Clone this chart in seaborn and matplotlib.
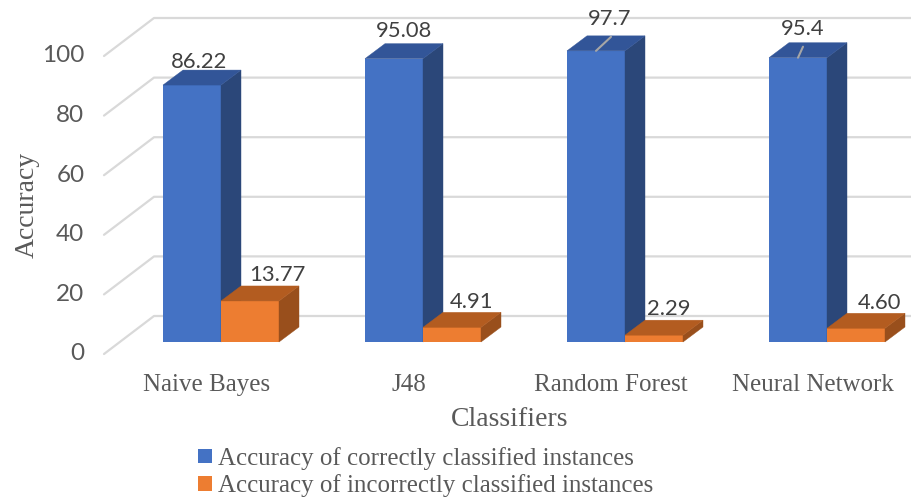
import matplotlib
matplotlib.use("Agg")
import matplotlib.pyplot as plt
import pandas as pd
import seaborn as sns
from matplotlib.patches import Polygon

classifiers = ["Naive Bayes", "J48", "Random Forest", "Neural Network"]
correct = [86.22, 95.08, 97.7, 95.4]
incorrect = [13.77, 4.91, 2.29, 4.60]
correct_labels = ["86.22", "95.08", "97.7", "95.4"]
incorrect_labels = ["13.77", "4.91", "2.29", "4.60"]
name_correct = "Accuracy of correctly classified instances"
name_incorrect = "Accuracy of incorrectly classified instances"
y_ticks = [0, 20, 40, 60, 80, 100]

W, H = 911, 499
px_x = 202.0   # pixels per category
px_y = 2.98    # pixels per accuracy point
GREY = "#595959"
SERIF = "Liberation Serif"
SANS = "Lato"

sns.set_theme(style="white")
fig = plt.figure(figsize=(W / 100, H / 100), dpi=100)
# axes in pixels: left 90, right 911, top 0, bottom 366
ax = fig.add_axes([90 / W, (H - 366) / H, (W - 90) / W, 366 / H])

df = pd.DataFrame({
    "Classifiers": classifiers * 2,
    "Accuracy": correct + incorrect,
    "series": [name_correct] * 4 + [name_incorrect] * 4,
})
sns.barplot(data=df, x="Classifiers", y="Accuracy", hue="series",
            palette=["#4472C4", "#ED7D31"], width=116 / px_x, saturation=1,
            edgecolor="none", linewidth=0, ax=ax, legend=True)

ax.set_xlim((90 - 221) / px_x, (911 - 221) / px_x)
ax.set_ylim((342 - 366) / px_y, 342 / px_y)
for s in ax.spines.values():
    s.set_visible(False)

dx = lambda p: p / px_x
dy = lambda p: p / px_y

# side walls: gridlines run from the front corner back, then along the back wall
for t in y_ticks:
    ax.plot([dx(104 - 221), dx(154 - 221), ax.get_xlim()[1]],
            [t - dy(12), t + dy(26), t + dy(26)],
            color="#D9D9D9", lw=1.6, zorder=0.5, clip_on=False)

depth_x, depth_y = dx(20), dy(15)


def add_box(rect, side, top, z):
    x0, x1 = rect.get_x(), rect.get_x() + rect.get_width()
    y1 = rect.get_height()
    rect.set_zorder(z)
    ax.add_patch(Polygon([(x1, 0), (x1 + depth_x, depth_y), (x1 + depth_x, y1 + depth_y), (x1, y1)],
                         facecolor=side, edgecolor=side, lw=0.3, zorder=z))
    ax.add_patch(Polygon([(x0, y1), (x0 + depth_x, y1 + depth_y), (x1 + depth_x, y1 + depth_y), (x1, y1)],
                         facecolor=top, edgecolor=top, lw=0.3, zorder=z))


for r in ax.containers[0]:
    add_box(r, "#2B4779", "#325598", 2)
for r in ax.containers[1]:
    add_box(r, "#994F1C", "#B35C20", 3)

# leader lines on the two tall bars
leaders = {2: (15, 14), 3: (5, 11)}
for i, (lx, ly) in leaders.items():
    r = ax.containers[0][i]
    cx = r.get_x() + r.get_width() / 2
    ax.plot([cx, cx + dx(lx)], [r.get_height(), r.get_height() + dy(ly)],
            color="#A6A6A6", lw=1.5, zorder=4)

# data labels, offset from the middle of the front top edge, in pixels
off_correct = [(7.5, 23.5), (10, 27.5), (14, 31.5), (5, 28.5)]
off_incorrect = [(27, 26), (20, 25), (15, 26), (23, 25)]
for cont, labs, offs in [(ax.containers[0], correct_labels, off_correct),
                         (ax.containers[1], incorrect_labels, off_incorrect)]:
    for r, lab, (ox, oy) in zip(cont, labs, offs):
        ax.text(r.get_x() + r.get_width() / 2 + dx(ox), r.get_height() + dy(oy), lab,
                ha="center", va="center", color="#404040", fontsize=15.8,
                family=SANS, zorder=6)

# tick labels
ax.set_xticks([i + dx(-14) for i in range(4)], classifiers)
ax.set_yticks([t - dy(10) for t in y_ticks], [str(t) for t in y_ticks])
ax.tick_params(axis="x", length=0, pad=6, labelsize=18, labelcolor=GREY)
ax.tick_params(axis="y", length=0, pad=4, labelsize=17.5, labelcolor=GREY)
for t in ax.get_xticklabels():
    t.set_family(SERIF)
for t in ax.get_yticklabels():
    t.set_family(SANS)

ax.set_xlabel("")
ax.set_ylabel("")
fig.text(510 / W, 1 - 420 / H, "Classifiers", ha="center", va="center",
         family=SERIF, fontsize=20, color=GREY)
fig.text(27 / W, 1 - 205 / H, "Accuracy", ha="center", va="center", rotation=90,
         family=SERIF, fontsize=20, color=GREY)

handles, labels = ax.get_legend_handles_labels()
ax.legend(handles, labels, loc="upper left", bbox_to_anchor=(198 / W, 1 - 447 / H),
          bbox_transform=fig.transFigure, frameon=False, borderpad=0, borderaxespad=0,
          handlelength=0.58, handleheight=0.52, handletextpad=0.22, labelspacing=0.18,
          prop={"family": SERIF, "size": 17.9}, labelcolor=GREY)

fig.savefig("out.png", dpi=100)
